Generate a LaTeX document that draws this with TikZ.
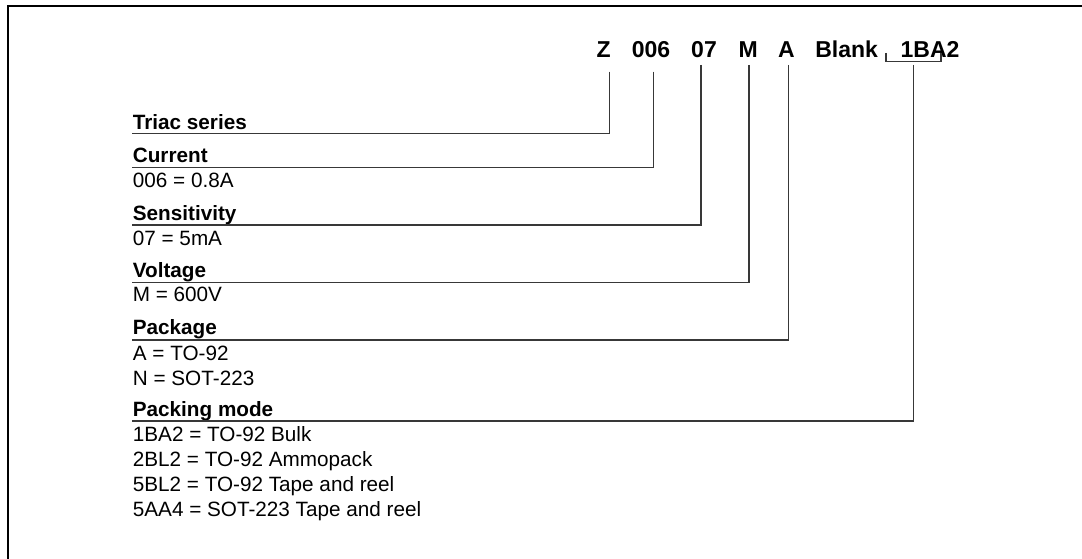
\documentclass[tikz,border=0pt]{standalone}
\usepackage{fontspec}
\setmainfont{Liberation Sans}
\begin{document}
\begin{tikzpicture}[x=1pt,y=-1pt,
  hdr/.style={anchor=base,inner sep=0pt,font=\fontsize{23}{23}\selectfont\bfseries},
  lbl/.style={anchor=base west,inner sep=0pt,font=\fontsize{20.7}{20.7}\selectfont\bfseries},
  val/.style={anchor=base west,inner sep=0pt,font=\fontsize{20.7}{20.7}\selectfont},
  lead/.style={line width=1.2pt,draw=black!78},
  frame/.style={line width=2pt,draw=black}]
\useasboundingbox (0,0) rectangle (1082,559);
% frame
\draw[frame] (1082,5.8) -- (7.7,5.8) -- (7.7,559);
% header code
\node[hdr] (hz) at (603.7,58) {Z};
\node[hdr] (hcur) at (651,58) {006};
\node[hdr] (hsen) at (704,58) {07};
\node[hdr] (hvol) at (748.3,58) {M};
\node[hdr] (hpkg) at (786.5,58) {A};
\node[hdr] (hblank) at (846.7,58) {Blank};
\node[hdr] (hpack) at (930,58) {1BA2};
% bracket under Blank/1BA2
\coordinate (brl) at (886,53);
\coordinate (brr) at (941,53);
\draw[lead] (brl) -- (886,61.5) -- (941,61.5) -- (brr);
% labels and values
\node[lbl] (ltri) at (132.7,129.3) {Triac series};
\node[lbl] (lcur) at (132.7,162.3) {Current};
\node[val] (vcur) at (132.7,187.3) {006 = 0.8A};
\node[lbl] (lsen) at (132.7,220) {Sensitivity};
\node[val] (vsen) at (132.7,245) {07 = 5mA};
\node[lbl] (lvol) at (132.7,277.3) {Voltage};
\node[val] (vvol) at (132.7,301.7) {M = 600V};
\node[lbl] (lpkg) at (132.7,334.3) {Package};
\node[val] (vpkg1) at (132.7,360) {A = TO-92};
\node[val] (vpkg2) at (132.7,385) {N = SOT-223};
\node[lbl] (lpack) at (132.7,416) {Packing mode};
\node[val] (vpack1) at (132.7,441.7) {1BA2 = TO-92 Bulk};
\node[val] (vpack2) at (132.7,466.7) {2BL2 = TO-92 Ammopack};
\node[val] (vpack3) at (132.7,491) {5BL2 = TO-92 Tape and reel};
\node[val] (vpack4) at (132.7,516) {5AA4 = SOT-223 Tape and reel};
% leader start points (below header) and end points (underline starts)
\coordinate (sz) at (609.3,71.7);
\coordinate (scur) at (653.3,71.7);
\coordinate (ssen) at (701,65);
\coordinate (svol) at (749,65);
\coordinate (spkg) at (788.3,65);
\coordinate (spack) at (913.3,65);
\coordinate (etri) at (132,133.7);
\coordinate (ecur) at (132,167.7);
\coordinate (esen) at (132,225);
\coordinate (evol) at (132,282.3);
\coordinate (epkg) at (132,340);
\coordinate (epack) at (132,421);
\draw[lead] (sz) |- (etri);
\draw[lead] (scur) |- (ecur);
\draw[lead] (ssen) |- (esen);
\draw[lead] (svol) |- (evol);
\draw[lead] (spkg) |- (epkg);
\draw[lead] (spack) |- (epack);
\end{tikzpicture}
\end{document}
